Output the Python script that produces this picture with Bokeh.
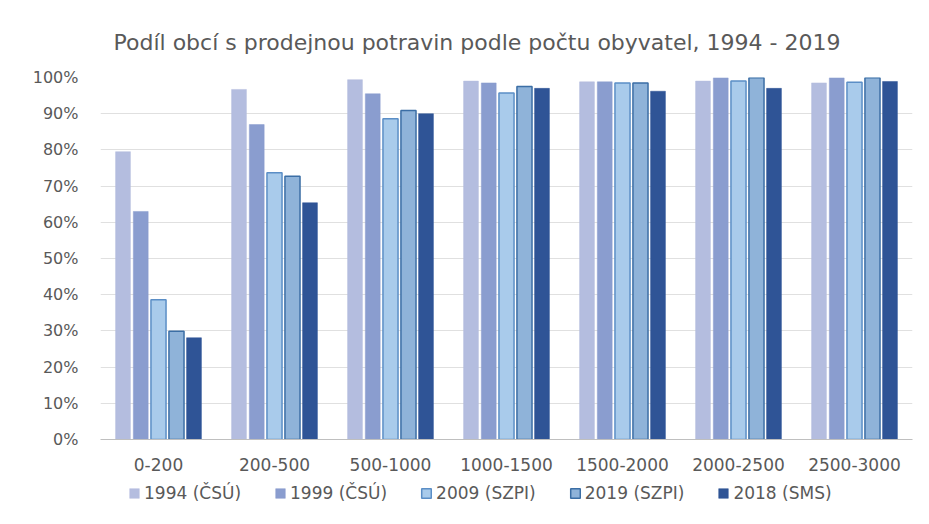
from bokeh.plotting import figure
from bokeh.layouts import column
from bokeh.models import (ColumnDataSource, FactorRange, NumeralTickFormatter, Legend, LegendItem,
                          Title, SingleIntervalTicker, Range1d)
from bokeh.transform import dodge
from bokeh.embed import file_html
from bokeh.resources import INLINE

categories = ["0-200", "200-500", "500-1000", "1000-1500", "1500-2000", "2000-2500", "2500-3000"]
series_names = ["1994 (ČSÚ)", "1999 (ČSÚ)", "2009 (SZPI)", "2019 (SZPI)", "2018 (SMS)"]
v1994 = [0.795, 0.967, 0.994, 0.990, 0.988, 0.990, 0.985]
v1999 = [0.630, 0.870, 0.955, 0.985, 0.988, 0.999, 0.999]
v2009 = [0.386, 0.737, 0.886, 0.957, 0.985, 0.990, 0.987]
v2019 = [0.299, 0.727, 0.909, 0.975, 0.985, 0.999, 0.999]
v2018 = [0.281, 0.654, 0.900, 0.970, 0.962, 0.970, 0.989]

data = dict(cat=categories, s0=v1994, s1=v1999, s2=v2009, s3=v2019, s4=v2018)
src = ColumnDataSource(data)

fills = ["#b4bddf", "#8a9dcf", "#a9cbeb", "#8fb3d9", "#2f5496"]
lines = ["#b4bddf", "#8a9dcf", "#5b8ec6", "#3b6ea5", "#2f5496"]
widths = [0.128, 0.128, 0.13, 0.13, 0.128]
offsets = [-0.306, -0.153, 0.0, 0.155, 0.306]

FONT = "DejaVu Sans"
TXT = "#595959"
W = 921

p = figure(width=W, height=480, x_range=FactorRange(*categories), y_range=(0, 1.0),
           output_backend="svg", toolbar_location=None,
           min_border_left=100, min_border_right=9, min_border_top=77, min_border_bottom=41)

p.add_layout(Title(text="Podíl obcí s prodejnou potravin podle počtu obyvatel, 1994 - 2019",
                   text_font=FONT, text_font_size="22px", text_font_style="normal",
                   text_color=TXT, align="left", offset=13, standoff=45), "above")

for i, name in enumerate(series_names):
    p.vbar(x=dodge("cat", offsets[i], range=p.x_range), top="s%d" % i, width=widths[i],
           source=src, fill_color=fills[i], line_color=lines[i],
           line_width=1.5 if i in (2, 3) else 0.5)

p.yaxis.formatter = NumeralTickFormatter(format="0%")
p.yaxis.ticker = SingleIntervalTicker(interval=0.1)
p.yaxis.axis_line_color = None
p.yaxis.major_tick_line_color = None
p.yaxis.minor_tick_line_color = None
p.xaxis.major_tick_line_color = None
p.xaxis.minor_tick_line_color = None
for ax in (p.xaxis, p.yaxis):
    ax.major_tick_out = 0
    ax.major_tick_in = 0
    ax.minor_tick_out = 0
    ax.major_label_text_font = FONT
    ax.major_label_text_font_size = "16px"
    ax.major_label_text_color = TXT
p.xaxis.axis_line_color = "#bfbfbf"
p.yaxis.major_label_standoff = 22
p.xaxis.major_label_standoff = 18
p.xaxis.major_label_text_font_size = "17px"
p.xgrid.grid_line_color = None
p.ygrid.grid_line_color = "#e0e0e0"
p.outline_line_color = None
p.x_range.range_padding = 0
p.x_range.group_padding = 0

# legend strip: same series as hidden renderers, used only for the legend
lf = figure(width=W, height=36, x_range=FactorRange(*categories), y_range=Range1d(10, 11),
            output_backend="svg", toolbar_location=None, x_axis_type=None, y_axis_type=None,
            min_border_left=0, min_border_right=0, min_border_top=0, min_border_bottom=0)
lf.xgrid.grid_line_color = None
lf.ygrid.grid_line_color = None
lf.outline_line_color = None
items = []
for i, name in enumerate(series_names):
    r = lf.vbar(x=dodge("cat", offsets[i], range=lf.x_range), top="s%d" % i, width=widths[i],
                source=src, fill_color=fills[i], line_color=lines[i],
                line_width=1.5 if i in (2, 3) else 0.5, visible=False)
    items.append(LegendItem(label=name, renderers=[r]))
legend = Legend(items=items, orientation="horizontal", location=(28, 13), click_policy="none",
                label_text_font=FONT, label_text_font_size="17px", label_text_color=TXT,
                glyph_width=12, glyph_height=12, spacing=33, label_standoff=4, label_height=20,
                border_line_color=None, background_fill_alpha=0, padding=0, margin=0,
                inactive_fill_alpha=0)
lf.add_layout(legend, "center")

layout = column(p, lf, spacing=0)
open("out.html", "w").write(file_html(layout, INLINE))
